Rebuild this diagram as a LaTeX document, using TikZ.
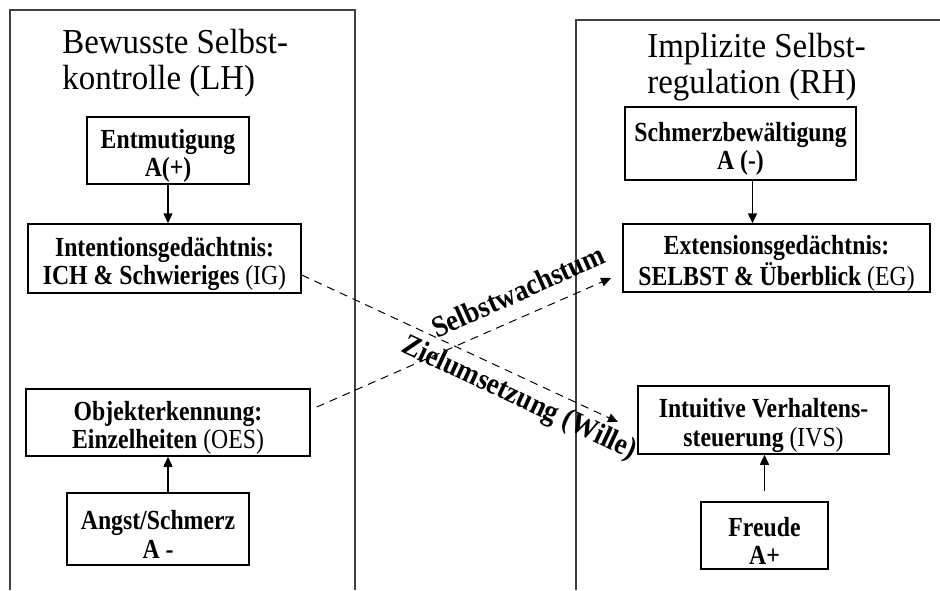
\documentclass[tikz,border=0pt]{standalone}
\usepackage{fontspec}
\setmainfont{Liberation Serif}
\newfontfamily\kastenfont[FakeStretch=0.86]{Liberation Serif}
\newfontfamily\titelfont[FakeStretch=0.94]{Liberation Serif}
\newfontfamily\schriftfont[FakeStretch=0.9]{Liberation Serif}
\newcommand{\oben}{\rule{0pt}{15pt}}
\usetikzlibrary{arrows.meta}

\begin{document}
\begin{tikzpicture}[x=0.5pt, y=-0.5pt,
    kasten/.style={draw=black, line width=0.75pt, align=center, inner sep=0pt,
        font=\kastenfont\fontsize{13.8}{14.2}\selectfont},
    titel/.style={anchor=west, align=left, inner sep=0pt,
        font=\titelfont\fontsize{17.5}{18}\selectfont},
    pfeil/.style={-{Triangle[length=5pt,width=4.5pt]}, line width=0.75pt},
    strich/.style={-{Triangle[length=5pt,width=4.5pt]}, line width=0.5pt, dash pattern=on 4pt off 3pt},
    schrift/.style={font=\schriftfont\fontsize{15}{16}\selectfont\bfseries, inner sep=0pt}]

\useasboundingbox (0,0) rectangle (940,590);

% Hemisphaeren
\draw [black!75, line width=0.65pt] (10,590) -- (10,10) -- (355,10) -- (355,590);
\draw [black!75, line width=0.65pt] (576,590) -- (576,20) -- (940,20);

\node (tl) at (62,63) [titel] {Bewusste Selbst-\\kontrolle (LH)};
\node (tr) at (647,67) [titel] {Implizite Selbst-\\regulation (RH)};

% linke Seite
\node (ent) at (168,150.5) [kasten, minimum width=81pt, minimum height=33.5pt]
    {\oben\textbf{Entmutigung}\\\textbf{A(+)}};
\node (ig) at (164.5,258.5) [kasten, minimum width=136.5pt, minimum height=34.5pt]
    {\oben\textbf{Intentionsgedächtnis:}\\\textbf{ICH \& Schwieriges} (IG)};
\node (oes) at (168,422.5) [kasten, minimum width=142pt, minimum height=33.5pt]
    {\oben\textbf{Objekterkennung:}\\\textbf{Einzelheiten} (OES)};
\node (angst) at (158,529) [kasten, minimum width=91pt, minimum height=36pt]
    {\oben\textbf{Angst/Schmerz}\\\textbf{A -}};

% rechte Seite
\node (schm) at (740.5,143.5) [kasten, minimum width=115.5pt, minimum height=36.5pt]
    {\oben\textbf{Schmerzbewältigung}\\\textbf{A (-)}};
\node (eg) at (776.5,258) [kasten, minimum width=153.5pt, minimum height=34pt]
    {\oben\textbf{Extensionsgedächtnis:}\\\textbf{SELBST \& Überblick} (EG)};
\node (ivs) at (763.5,420) [kasten, minimum width=125.5pt, minimum height=34pt]
    {\oben\textbf{Intuitive Verhaltens-}\\\textbf{steuerung} (IVS)};
\node (freu) at (764.5,535.5) [kasten, minimum width=63.5pt, minimum height=33.5pt]
    {\oben\textbf{Freude}\\\textbf{A+}};

\draw [pfeil] (ent.south) -- (ent.south |- ig.north);
\draw [pfeil] (oes.south |- angst.north) -- (oes.south);
\draw [pfeil] ([xshift=6pt]schm.south) -- ([xshift=6pt]schm.south |- eg.north);
\draw [pfeil] ([yshift=5pt]freu.north) -- (freu.north |- ivs.south);

% Kreuzung
\coordinate (zivs) at (618,422);
\coordinate (zeg) at (611,278);
\draw [strich] ([yshift=-8.25pt]ig.east) -- (zivs);
\draw [strich] ([shift={(3pt,7.75pt)}]oes.east) -- (zeg);

\node (sw) at (518,291) [schrift, rotate=24] {Selbstwachstum};
\node (zu) at (519,399) [schrift, rotate=-25] {Zielumsetzung (Wille)};

\end{tikzpicture}
\end{document}
